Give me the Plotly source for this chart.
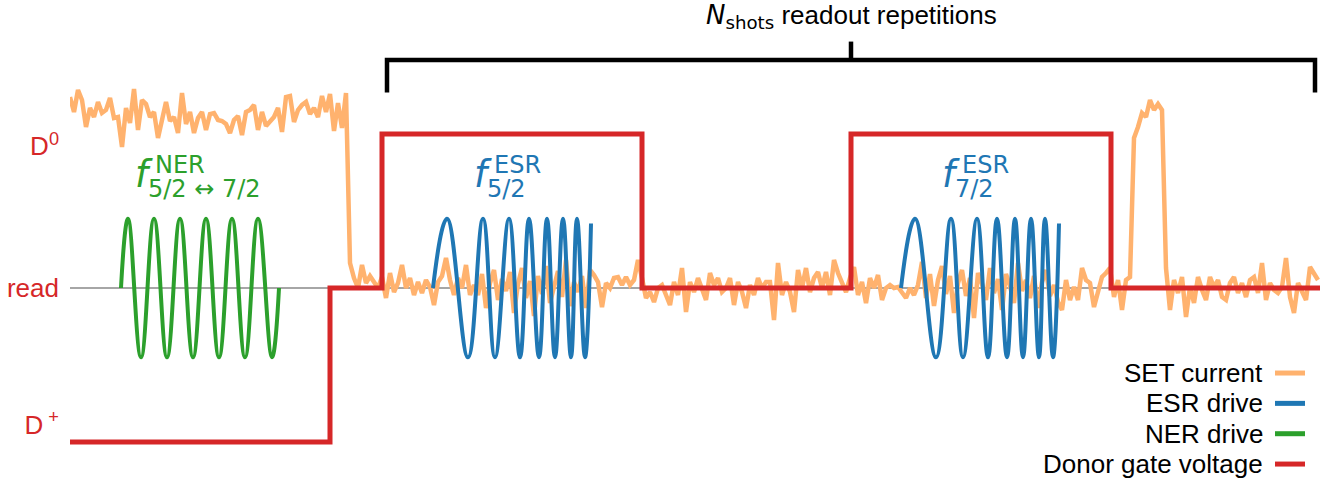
import numpy as np
import plotly.graph_objects as go

# time in arbitrary units, gate level: D+ = -1, read = 0, D0 = +1
GATE_T = [0, 26.0, 31.2, 57.2, 78.1, 104.1, 125.0]
GATE_LEVEL = [-1, 0, 1, 0, 1, 0, 0]
TICK_VALS = [0.92, 0, -0.89]
TICK_TEXT = ["D<sup>0</sup>", "read", "D<sup> +</sup>"]

# drive pulses: times of start, peaks/troughs, end (sign of each extremum)
DRIVE_AMP = 0.45
NER_T = [5.1, 5.8, 7.1, 8.4, 9.7, 11.0, 12.3, 13.6, 14.9, 16.2, 17.5, 18.8, 20.2, 20.9]
NER_V = [0, 1, -1, 1, -1, 1, -1, 1, -1, 1, -1, 1, -1, 0]
ESR_REL_T = [0, 1.4, 3.5, 5.0, 6.2, 7.6, 8.7, 9.6, 10.6, 11.4, 12.2, 13.0, 13.8, 14.4, 15.2, 15.8]
ESR_V = [0, 1, -1, 1, -1, 1, -1, 1, -1, 1, -1, 1, -1, 1, -1, 0.93]
ESR_START = [36.3, 83.1]
ESR_NAMES = ["5/2", "7/2"]

# SET current (a.u., 154 a.u. = one gate level), four stretches of the trace
SET_SCALE = 154.0
SET_SPANS = [(0.0, 27.6), (28.0, 106.0), (106.4, 109.2), (109.6, 124.8)]
SET_HIGH = [191, 176, 198, 188, 161, 180, 171, 186, 175, 178,
            190, 170, 171, 141, 180, 165, 199, 158, 188, 184,
            171, 176, 150, 170, 186, 167, 171, 155, 195, 164,
            176, 155, 170, 176, 158, 174, 175, 168, 167, 164,
            155, 168, 172, 153, 176, 178, 183, 158, 176, 162,
            166, 171, 180, 156, 191, 192, 166, 178, 183, 186,
            174, 180, 171, 192, 176, 194, 157, 185, 160, 195]
SET_READ = [25, 10, 0, 23, 5, 12, 6, 0, 11, -10,
            15, -4, 5, 23, 0, 10, -7, 6, -5, 8,
            1, -17, 6, 12, 30, 8, -7, 10, 0, 23,
            -7, 3, -7, 14, -20, 5, 18, -12, 9, -3,
            16, -25, 4, 20, -10, 7, -28, 12, -6, 22,
            -15, 3, 17, -9, 28, -18, 6, -4, 12, -20,
            18, 13, 6, -19, 5, 0, 10, 11, 3, 11,
            3, 8, 28, 10, -10, -4, -14, 0, 3, -7,
            -17, 6, -7, 20, -24, 6, -4, 10, 0, -12,
            15, 3, 10, -4, 0, 10, -17, 6, -4, -20,
            3, -7, 10, 0, 6, 6, -32, 25, -7, 6,
            -4, -24, 18, 0, 20, -4, 10, 16, 0, 16,
            -7, 28, 15, 6, -4, 10, 21, -7, 6, -15,
            10, 0, 13, -12, 0, 3, 0, 1, -4, -10,
            0, -7, 3, 26, -10, 14, -18, 8, 22, -6,
            12, -25, 5, 18, -8, 10, -30, 15, 4, -12,
            20, -5, 9, -22, 14, 2, -15, 25, -3, 8,
            -10, 12, -20, 6, 18, -8, 3, -14, -22, 8,
            -12, 1, -12, 20, 8, 5, -19, -2, 11, 15,
            20, -9, 8, -22, 8, 11]
SET_BLIP = [150, 161, 175, 171, 188, 178, 184, 178]
SET_TAIL = [20, -22, 8, -5, 11, -29, 1, -15, 11, -2, -12, 11,
            1, 8, -9, -12, 5, 11, -5, 5, -9, 8, 11, -5,
            25, -12, 5, -2, -5, 1, 30, -9, -25, 5, -5, -12, 21, 15, 8]

BRACKET_T = (31.7, 124.5)
BRACKET_LEVELS = dict(bar=1.48, ends=1.27, tick=1.60)

LEGEND_NAMES = ["SET current", "ESR drive", "NER drive", "Donor gate voltage"]

C_SET = "#ffb26e"
C_ESR = "#1f77b4"
C_NER = "#2ca02c"
C_GATE = "#d62728"
SANS = "Liberation Sans, Arial, sans-serif"
MATH = "DejaVu Sans"

# -----------------------------
set_t, set_v = [], []
for (t0, t1), vals in zip(SET_SPANS, [SET_HIGH, SET_READ, SET_BLIP, SET_TAIL]):
    set_t += list(np.linspace(t0, t1, len(vals)))
    set_v += [v / SET_SCALE for v in vals]

fig = go.Figure()
fig.add_trace(go.Scatter(x=[GATE_T[0], GATE_T[-1]], y=[0, 0], mode="lines",
                         line=dict(color="#888888", width=1.5), hoverinfo="skip"))
fig.add_trace(go.Scatter(x=set_t, y=set_v, mode="lines", line=dict(color=C_SET, width=4.5)))
fig.add_trace(go.Scatter(x=NER_T, y=[DRIVE_AMP * v for v in NER_V], mode="lines",
                         line=dict(color=C_NER, width=4, shape="spline", smoothing=1.2)))
for t0 in ESR_START:
    fig.add_trace(go.Scatter(x=[t0 + t for t in ESR_REL_T], y=[DRIVE_AMP * v for v in ESR_V],
                             mode="lines",
                             line=dict(color=C_ESR, width=4, shape="spline", smoothing=1.2)))
fig.add_trace(go.Scatter(x=GATE_T, y=GATE_LEVEL, mode="lines",
                         line=dict(color=C_GATE, width=5, shape="hv")))

# bracket over the readout repetitions
bl, br = BRACKET_T
bc = (bl + br) / 2
fig.add_trace(go.Scatter(
    x=[bl, bl, br, br, None, bc, bc],
    y=[BRACKET_LEVELS["ends"], BRACKET_LEVELS["bar"], BRACKET_LEVELS["bar"], BRACKET_LEVELS["ends"],
       None, BRACKET_LEVELS["bar"], BRACKET_LEVELS["tick"]],
    mode="lines", line=dict(color="black", width=4.5)))

annotations = [dict(
    x=bc, y=1.76, xref="x", yref="y", showarrow=False,
    text=f'<span style="font-family:{MATH}"><i>N</i><sub>shots</sub></span> readout repetitions',
    font=dict(family=SANS, size=26, color="black"))]


def f_label(x, sup, sub, color):
    return [
        dict(x=x, y=0.74, text="<i>f</i>", xanchor="center",
             font=dict(family=MATH, size=37, color=color)),
        dict(x=x + 0.9, y=0.80, text=sup, xanchor="left",
             font=dict(family=MATH, size=24, color=color)),
        dict(x=x + 0.2, y=0.64, text=sub, xanchor="left",
             font=dict(family=MATH, size=24, color=color)),
    ]


labels = f_label(7.4, "NER", "5/2 ↔ 7/2", C_NER)
for t0, name in zip(ESR_START, ESR_NAMES):
    labels += f_label(t0 + 5.0, "ESR", name, C_ESR)
for a in labels:
    a.update(xref="x", yref="y", showarrow=False, yanchor="middle")
annotations += labels

# legend (text on the left, line sample on the right)
legend_colors = [C_SET, C_ESR, C_NER, C_GATE]
shapes = []
for i, (name, col) in enumerate(zip(LEGEND_NAMES, legend_colors)):
    yy = -0.552 - 0.197 * i
    annotations.append(dict(x=119.5, y=yy, xref="x", yref="y", text=name, showarrow=False,
                            xanchor="right", yanchor="middle",
                            font=dict(family=SANS, size=26, color="black")))
    shapes.append(dict(type="line", xref="x", yref="y", x0=120.5, x1=123.5, y0=yy, y1=yy,
                       line=dict(color=col, width=5)))

fig.update_layout(
    width=1332, height=483,
    margin=dict(l=70, r=0, t=0, b=0),
    paper_bgcolor="white", plot_bgcolor="white",
    showlegend=False,
    xaxis=dict(range=[0, 126.2], visible=False, fixedrange=True),
    yaxis=dict(range=[-1.266, 1.870], showgrid=False, zeroline=False, showline=False,
               tickvals=TICK_VALS, ticktext=TICK_TEXT, ticks="", ticklabelstandoff=10,
               tickfont=dict(family=SANS, size=26, color=C_GATE), fixedrange=True),
    annotations=annotations,
    shapes=shapes,
)

fig.write_html("out.html", config={"displayModeBar": False},
               post_script="document.body.style.margin = '0';")
